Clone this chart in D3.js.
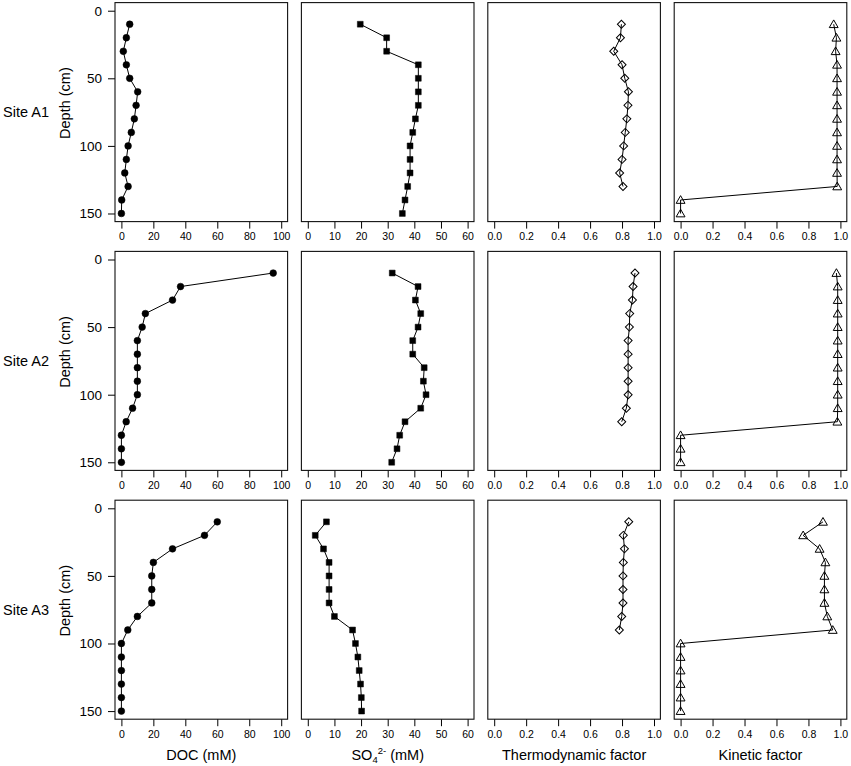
<!DOCTYPE html>
<html>
<head>
<meta charset="utf-8">
<script src="https://cdn.jsdelivr.net/npm/d3@7"></script>
<style>
  body { margin: 0; background: #fff; }
  text { font-family: "Liberation Sans", Arial, sans-serif; fill: #000; }
</style>
</head>
<body>
<div class="chart"></div>
<script>
// DATA ------------------------------------
const depth = [10, 20, 30, 40, 50, 60, 70, 80, 90, 100, 110, 120, 130, 140, 150]
const sites = ['Site A1', 'Site A2', 'Site A3']

const docA1 = [5.2, 3.1, 1.2, 3.1, 5.2, 10.2, 9.2, 8.1, 6.2, 4.2, 3.1, 2.1, 4.2, 0.2, 0]
const docA2 = [95, 37, 32, 15, 13, 10, 10, 10, 10, 10, 7, 3, 0, 0, 0]
const docA3 = [60, 52, 32, 20, 19, 19, 19, 10, 4, 0, 0, 0, 0, 0, 0]

const so4A1 = [19.7, 29.6, 29.6, 41.5, 41.5, 41.5, 41.5, 40.4, 39.4, 38.4, 38.4, 38.4, 37.5, 36.5, 35.5]
const so4A2 = [31.7, 41.4, 40.4, 42.4, 41.4, 39.4, 39.4, 43.7, 43.4, 44.4, 42.4, 36.5, 34.5, 33.5, 31.5]
const so4A3 = [7, 2.8, 5.9, 8, 8, 8, 8, 10, 16.8, 17.9, 18.8, 19.3, 19.8, 20.1, 20.2]

const thermoA1 = [0.796, 0.79, 0.748, 0.80, 0.817, 0.84, 0.837, 0.83, 0.82, 0.81, 0.80, 0.785, 0.806]
const thermoA2 = [0.881, 0.869, 0.865, 0.848, 0.846, 0.838, 0.838, 0.838, 0.838, 0.838, 0.827, 0.798]
const thermoA3 = [0.842, 0.808, 0.815, 0.808, 0.806, 0.806, 0.806, 0.798, 0.783]

const kinA1 = [0.958, 0.975, 0.97, 0.979, 0.979, 0.979, 0.979, 0.979, 0.979, 0.979, 0.979, 0.979, 0.98, 0, 0]
const kinA2 = [0.975, 0.983, 0.983, 0.983, 0.983, 0.983, 0.983, 0.983, 0.983, 0.983, 0.983, 0.981, 0, 0, 0]
const kinA3 = [0.891, 0.767, 0.87, 0.906, 0.9, 0.9, 0.9, 0.918, 0.952, 0, 0, 0, 0, 0, 0]

const depthTicks = [0, 50, 100, 150]
const docTicks = [0, 20, 40, 60, 80, 100]
const so4Ticks = [0, 10, 20, 30, 40, 50, 60]
const factorTicks = [0, 0.2, 0.4, 0.6, 0.8, 1.0]

const columns = [
    { title: 'DOC (mM)', max: 100, ticks: docTicks, fmt: d3.format('d'), marker: 'circle', series: [docA1, docA2, docA3] },
    { title: 'SO4', max: 60, ticks: so4Ticks, fmt: d3.format('d'), marker: 'square', series: [so4A1, so4A2, so4A3] },
    { title: 'Thermodynamic factor', max: 1, ticks: factorTicks, fmt: d3.format('.1f'), marker: 'diamond', series: [thermoA1, thermoA2, thermoA3] },
    { title: 'Kinetic factor', max: 1, ticks: factorTicks, fmt: d3.format('.1f'), marker: 'triangle', series: [kinA1, kinA2, kinA3] }
]

// LAYOUT ----------------------------------
const W = 851, H = 766
const left0 = 115, colStep = 186.4, pw = 172.6
const top0 = 2.6, rowStep = 248.8, ph = 219

const svg = d3.select('.chart')
    .append('svg')
    .attr('width', W)
    .attr('height', H)

const yScale = d3.scaleLinear()
    .domain([-6, 156])
    .range([0, ph])

// diamond is a square turned 45 degrees (as R's pch 5)
const symbols = {
    circle: d3.symbol().type(d3.symbolCircle).size(36),
    square: d3.symbol().type(d3.symbolSquare).size(34),
    diamond: d3.symbol().type(d3.symbolSquare).size(32),
    triangle: d3.symbol().type(d3.symbolTriangle).size(34)
}

function markerTransform(marker, px, py) {
    if (marker === 'diamond') return `translate(${px},${py}) rotate(45)`
    if (marker === 'triangle') return `translate(${px},${py + 0.8})`
    return `translate(${px},${py})`
}

sites.forEach((site, r) => {
    const top = top0 + r * rowStep

    columns.forEach((col, c) => {
        const x0 = left0 + c * colStep
        const pad = col.max * 0.04
        const xScale = d3.scaleLinear()
            .domain([-pad, col.max + pad])
            .range([0, pw])

        const g = svg.append('g')
            .attr('transform', `translate(${x0},${top})`)

        const values = col.series[r]
        const pts = values.map((v, i) => ({ x: v, y: depth[i] }))

        // x axis
        const xAxis = d3.axisBottom(xScale)
            .tickValues(col.ticks)
            .tickFormat(col.fmt)
            .tickSize(7)
            .tickPadding(4)
        g.append('g')
            .attr('class', 'axis x-axis')
            .attr('transform', `translate(0,${ph})`)
            .call(xAxis)
            .call(a => a.select('.domain').remove())
            .call(a => a.selectAll('line').attr('stroke', '#000'))
            .call(a => a.selectAll('text').attr('font-size', '10.5px').attr('font-family', null))

        // y axis only in first column
        if (c === 0) {
            const yAxis = d3.axisLeft(yScale)
                .tickValues(depthTicks)
                .tickSize(7)
                .tickPadding(6)
            g.append('g')
                .attr('class', 'axis y-axis')
                .call(yAxis)
                .call(a => a.select('.domain').remove())
                .call(a => a.selectAll('line').attr('stroke', '#000'))
                .call(a => a.selectAll('text').attr('font-size', '13.5px').attr('font-family', null))
        }

        // frame
        g.append('rect')
            .attr('width', pw)
            .attr('height', ph)
            .attr('fill', 'none')
            .attr('stroke', '#111')
            .attr('stroke-width', 1.1)

        // profile line
        const line = d3.line()
            .x(d => xScale(d.x))
            .y(d => yScale(d.y))
        g.append('path')
            .datum(pts)
            .attr('d', line)
            .attr('fill', 'none')
            .attr('stroke', '#000')
            .attr('stroke-width', 1)

        // markers
        const filled = col.marker === 'circle' || col.marker === 'square'
        g.selectAll('.pt')
            .data(pts)
            .enter()
            .append('path')
            .attr('class', 'pt')
            .attr('transform', d => markerTransform(col.marker, xScale(d.x), yScale(d.y)))
            .attr('d', symbols[col.marker])
            .attr('fill', filled ? '#000' : 'none')
            .attr('stroke', '#000')
            .attr('stroke-width', filled ? 0.5 : 1)
    })

    // row labels
    const mid = top + ph / 2
    svg.append('text')
        .attr('x', 3)
        .attr('y', mid)
        .attr('dy', '0.35em')
        .attr('font-size', '14.5px')
        .text(site)

    svg.append('text')
        .attr('transform', `translate(70,${mid - 9}) rotate(-90)`)
        .attr('text-anchor', 'middle')
        .attr('font-size', '14.5px')
        .text('Depth (cm)')
})

// bottom axis titles
const titleY = top0 + 2 * rowStep + ph + 41
columns.forEach((col, c) => {
    const t = svg.append('text')
        .attr('x', left0 + c * colStep + pw / 2)
        .attr('y', titleY)
        .attr('text-anchor', 'middle')
        .attr('font-size', '14.5px')
    if (col.title === 'SO4') {
        t.append('tspan').text('SO')
        t.append('tspan').attr('font-size', '9.5px').attr('dy', 3).text('4')
        t.append('tspan').attr('font-size', '9.5px').attr('dy', -9).text('2-')
        t.append('tspan').attr('dy', 6).text(' (mM)')
    } else {
        t.text(col.title)
    }
})
</script>
</body>
</html>
